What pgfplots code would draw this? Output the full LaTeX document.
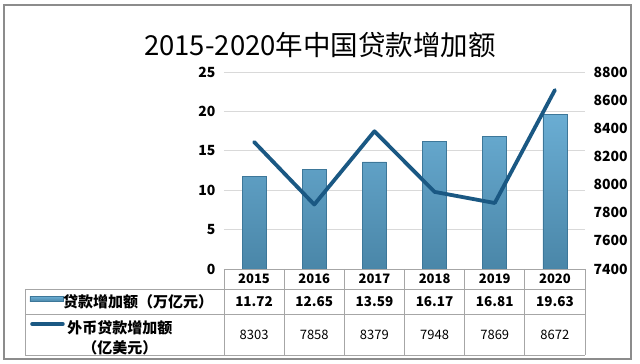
\documentclass[border=0pt]{standalone}
\usepackage{pgfplots}
\pgfplotsset{compat=1.18}
\usepackage{fontspec}
\setmainfont{Noto Sans CJK SC}
\definecolor{barTop}{HTML}{6AADD3}
\definecolor{barBot}{HTML}{4A86A8}
\definecolor{barEdge}{HTML}{3D7799}
\definecolor{lineC}{HTML}{1A5883}
\definecolor{gridC}{HTML}{D9D9D9}
\definecolor{tabC}{HTML}{A6A6A6}
\definecolor{frameC}{HTML}{8C8C8C}
\begin{document}
\begin{tikzpicture}[x=1pt,y=1pt]
\path[use as bounding box] (-224,-95) rectangle (416,269);
% frame
\draw[frameC, line width=1.3pt] (-220,-90) rectangle (407,264);
% title
\node[font=\fontsize{27.5}{31}\selectfont] at (96,224) {2015-2020年中国贷款增加额};
\begin{axis}[
  at={(0,0)}, anchor=south west,
  scale only axis, width=361pt, height=197pt,
  xmin=-0.5, xmax=5.5, ymin=0, ymax=25,
  ytick={0,5,...,25},
  xtick=\empty,
  ymajorgrids, grid style={gridC, line width=0.8pt},
  axis line style={draw=none},
  major tick length=0pt,
  tick style={draw=none},
  yticklabel style={font=\fontsize{14}{16}\selectfont\bfseries, xshift=-5pt},
  /pgf/number format/assume math mode=true,
  clip=false,
]
\addplot[ybar, bar width=24pt, draw=barEdge, line width=0.6pt, top color=barTop, bottom color=barBot]
  coordinates {(0,11.72) (1,12.65) (2,13.59) (3,16.17) (4,16.81) (5,19.63)};
\end{axis}
\begin{axis}[
  at={(0,0)}, anchor=south west,
  scale only axis, width=361pt, height=197pt,
  xmin=-0.5, xmax=5.5, ymin=7400, ymax=8800,
  ytick={7400,7600,...,8800},
  axis y line*=right, axis x line=none,
  axis line style={draw=none},
  major tick length=0pt,
  tick style={draw=none},
  yticklabel style={font=\fontsize{14}{16}\selectfont\bfseries, xshift=5pt},
  scaled y ticks=false,
  /pgf/number format/.cd, 1000 sep={}, assume math mode=true,
]
\addplot[lineC, line width=3.8pt, line join=round, line cap=round]
  coordinates {(0,8303) (1,7858) (2,8379) (3,7948) (4,7869) (5,8672)};
\end{axis}
% table lines
\draw[tabC, line width=0.8pt] (0,0) -- (361,0);
\draw[tabC, line width=0.8pt] (-199,-20) -- (361,-20);
\draw[tabC, line width=0.8pt] (-199,-45) -- (361,-45);
\draw[tabC, line width=0.8pt] (-199,-86) -- (361,-86);
\draw[tabC, line width=0.8pt] (-199,-20) -- (-199,-86);
\foreach \i in {0,...,6} {
  \draw[tabC, line width=0.8pt] ({60.1667*\i},0) -- ({60.1667*\i},-86);
}
% header years
\foreach \yr [count=\i from 0] in {2015,2016,2017,2018,2019,2020} {
  \node[font=\fontsize{13}{15}\selectfont\bfseries] at ({30.083+60.1667*\i},-10) {\yr};
}
\foreach \v [count=\i from 0] in {11.72,12.65,13.59,16.17,16.81,19.63} {
  \node[font=\fontsize{13.5}{15}\selectfont\bfseries] at ({30.083+60.1667*\i},-32.5) {\v};
}
\foreach \v [count=\i from 0] in {8303,7858,8379,7948,7869,8672} {
  \node[font=\fontsize{13}{15}\selectfont] at ({30.083+60.1667*\i},-65.5) {\v};
}
% legend keys
\shade[top color=barTop, bottom color=barBot, draw=barEdge, line width=0.4pt] (-194,-27.5) rectangle (-161,-32.5);
\draw[lineC, line width=3.5pt, line cap=round] (-192,-55) -- (-161,-55);
% row labels
\node[anchor=west, inner sep=0pt, font=\fontsize{15}{17}\selectfont\bfseries] at (-161,-32.5) {贷款增加额（万亿元）};
\node[align=center, inner sep=0pt, font=\fontsize{15}{20}\selectfont\bfseries] at (-104,-69) {外币贷款增加额\\（亿美元）};
\end{tikzpicture}
\end{document}
